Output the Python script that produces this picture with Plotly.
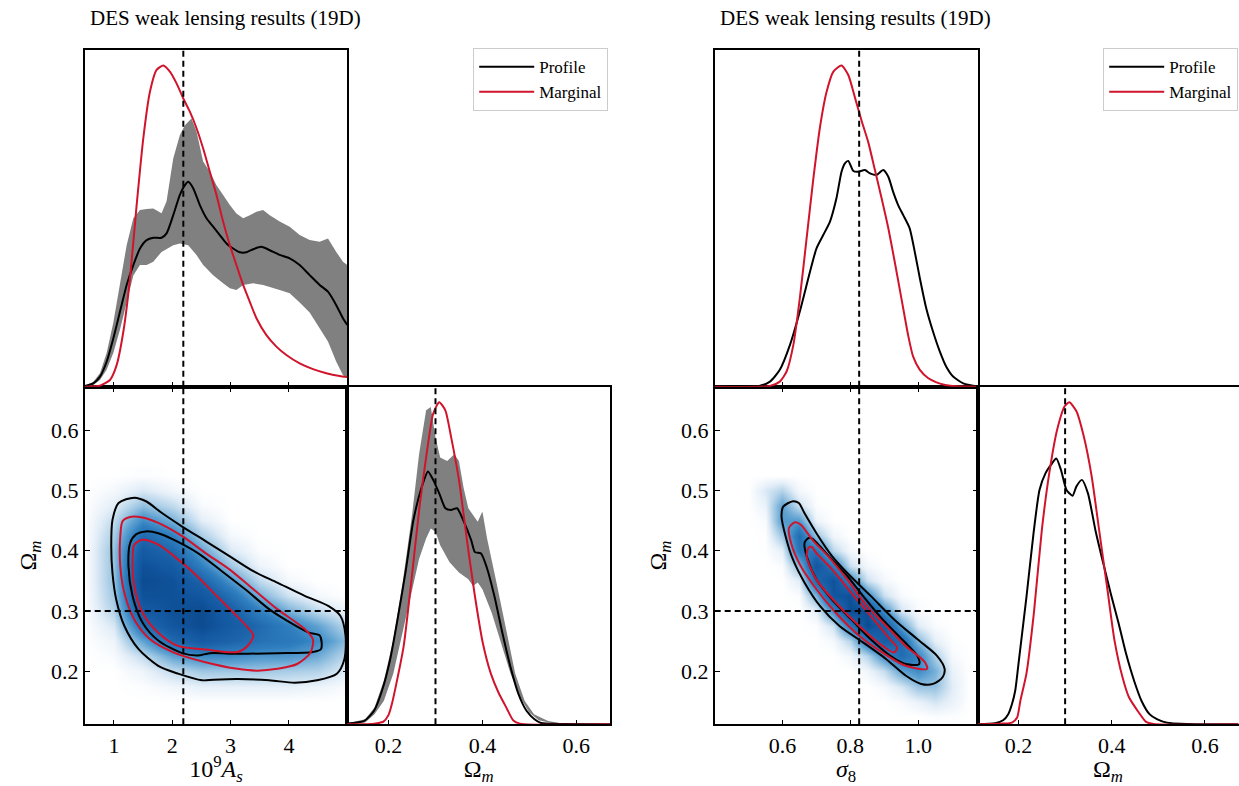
import plotly.graph_objects as go

# ---------------- data ----------------
AS_FID = 2.19
OM_FID = 0.30
S8_FID = 0.826

AS_RANGE = [0.5, 5.0]
S8_RANGE = [0.4, 1.175]
OM_RANGE = [0.112, 0.672]

as_ticks = [1, 2, 3, 4]
s8_ticks = [0.6, 0.8, 1.0]
s8_ticktext = ["0.6", "0.8", "1.0"]
om_ticks_2d = [0.2, 0.3, 0.4, 0.5, 0.6]
om_ticks_1d = [0.2, 0.4, 0.6]

# --- 1D: 10^9 A_s (left group, top panel) ---
as_x_marg = [0.5, 0.762, 0.933, 1.047, 1.162, 1.276, 1.39, 1.504, 1.618, 1.732, 1.846, 1.96, 2.074, 2.188,
             2.302, 2.416, 2.53, 2.644, 2.758, 2.872, 2.987, 3.1, 3.215, 3.329, 3.443, 3.614, 3.785, 3.956,
             4.184, 4.412, 4.64, 4.868, 5.0]
as_y_marg = [0, 0.003, 0.02, 0.064, 0.163, 0.321, 0.539, 0.737, 0.875, 0.94, 0.953, 0.935, 0.9, 0.856,
             0.816, 0.767, 0.707, 0.638, 0.569, 0.49, 0.42, 0.361, 0.302, 0.252, 0.203, 0.153, 0.119, 0.094,
             0.069, 0.052, 0.04, 0.032, 0.029]
as_x_prof = [0.5, 0.648, 0.762, 0.876, 0.99, 1.105, 1.219, 1.333, 1.447, 1.561, 1.675, 1.817, 1.903, 2.017,
             2.131, 2.217, 2.274, 2.359, 2.473, 2.587, 2.701, 2.815, 2.929, 3.043, 3.157, 3.272, 3.386, 3.528,
             3.671, 3.842, 4.013, 4.184, 4.355, 4.526, 4.669, 4.811, 4.925, 5.0]
as_y_prof = [0.002, 0.01, 0.03, 0.074, 0.143, 0.223, 0.302, 0.361, 0.41, 0.435, 0.442, 0.442, 0.455, 0.509,
             0.569, 0.598, 0.608, 0.589, 0.539, 0.5, 0.475, 0.45, 0.425, 0.41, 0.399, 0.399, 0.408, 0.415,
             0.405, 0.391, 0.381, 0.361, 0.331, 0.302, 0.282, 0.242, 0.203, 0.183]
as_band_x_hi = [0.5, 0.648, 0.762, 0.876, 0.99, 1.105, 1.219, 1.333, 1.447, 1.561, 1.675, 1.817, 1.903, 2.017,
                2.131, 2.217, 2.33, 2.416, 2.53, 2.644, 2.758, 2.872, 2.987, 3.1, 3.215, 3.329, 3.443, 3.557,
                3.671, 3.842, 4.013, 4.184, 4.355, 4.526, 4.669, 4.811, 4.925, 5.0]
as_band_hi = [0.002, 0.015, 0.04, 0.1, 0.19, 0.3, 0.42, 0.5, 0.524, 0.527, 0.529, 0.515, 0.55, 0.677,
              0.747, 0.776, 0.796, 0.757, 0.668, 0.638, 0.598, 0.569, 0.539, 0.514, 0.5, 0.509, 0.519, 0.524,
              0.509, 0.49, 0.475, 0.45, 0.435, 0.43, 0.44, 0.4, 0.371, 0.361]
as_band_x_lo = [0.5, 0.648, 0.762, 0.876, 0.99, 1.105, 1.219, 1.333, 1.447, 1.561, 1.675, 1.817, 1.903, 2.017,
                2.131, 2.274, 2.416, 2.53, 2.701, 2.872, 2.987, 3.1, 3.215, 3.386, 3.557, 3.842, 4.013, 4.184,
                4.355, 4.526, 4.669, 4.811, 4.925, 5.0]
as_band_lo = [0, 0.005, 0.02, 0.05, 0.1, 0.17, 0.25, 0.33, 0.361, 0.361, 0.371, 0.4, 0.41, 0.42,
              0.425, 0.42, 0.391, 0.361, 0.331, 0.307, 0.292, 0.287, 0.302, 0.307, 0.302, 0.287, 0.277, 0.25,
              0.22, 0.173, 0.134, 0.074, 0.035, 0.025]

# --- 1D: Omega_m (left group) ---
omL_x_marg = [0.112, 0.165, 0.175, 0.189, 0.2, 0.207, 0.215, 0.232, 0.249, 0.266, 0.283, 0.295, 0.308, 0.321,
              0.333, 0.35, 0.367, 0.384, 0.401, 0.418, 0.434, 0.452, 0.466, 0.48, 0.672]
omL_y_marg = [0, 0.001, 0.003, 0.008, 0.028, 0.06, 0.11, 0.23, 0.43, 0.645, 0.82, 0.92, 0.954, 0.93,
              0.853, 0.724, 0.546, 0.38, 0.24, 0.15, 0.095, 0.047, 0.011, 0.002, 0]
omL_x_prof = [0.112, 0.148, 0.169, 0.186, 0.203, 0.219, 0.236, 0.253, 0.27, 0.284, 0.295, 0.308, 0.321, 0.333,
              0.346, 0.359, 0.376, 0.384, 0.397, 0.409, 0.426, 0.443, 0.46, 0.477, 0.494, 0.511, 0.525, 0.536,
              0.57, 0.672]
omL_y_prof = [0.002, 0.01, 0.04, 0.1, 0.19, 0.31, 0.45, 0.605, 0.70, 0.749, 0.724, 0.684, 0.64, 0.635,
              0.64, 0.605, 0.546, 0.51, 0.506, 0.466, 0.377, 0.268, 0.169, 0.089, 0.04, 0.015, 0.004, 0.002,
              0.001, 0]
omL_band_x_hi = [0.112, 0.15, 0.17, 0.19, 0.21, 0.23, 0.25, 0.265, 0.28, 0.29, 0.30, 0.31, 0.325, 0.34, 0.35,
                 0.36, 0.37, 0.38, 0.39, 0.40, 0.41, 0.43, 0.45, 0.47, 0.49, 0.51, 0.54, 0.57, 0.6]
omL_band_hi = [0.003, 0.015, 0.05, 0.13, 0.25, 0.42, 0.62, 0.8, 0.93, 0.94, 0.85, 0.79, 0.78, 0.8, 0.78,
               0.7, 0.64, 0.62, 0.6, 0.63, 0.55, 0.42, 0.28, 0.15, 0.07, 0.03, 0.01, 0.002, 0]
omL_band_x_lo = [0.112, 0.15, 0.17, 0.19, 0.21, 0.23, 0.25, 0.265, 0.28, 0.29, 0.30, 0.31, 0.33, 0.35, 0.37,
                 0.38, 0.39, 0.40, 0.42, 0.44, 0.46, 0.48, 0.50, 0.52, 0.55, 0.57, 0.6]
omL_band_lo = [0, 0.005, 0.03, 0.07, 0.15, 0.27, 0.4, 0.49, 0.55, 0.58, 0.57, 0.53, 0.48, 0.45, 0.43,
               0.41, 0.42, 0.40, 0.33, 0.24, 0.15, 0.08, 0.035, 0.012, 0.003, 0, 0]

# --- 2D: A_s vs Omega_m contours ---
asL_out_black_x = [1.35, 1.08, 0.976, 0.955, 0.976, 1.04, 1.18, 1.42, 1.76, 2.10, 2.51, 2.71, 3.12, 3.66, 4.10,
                   4.48, 4.82, 4.95, 4.97, 4.88, 4.68, 4.27, 3.80, 3.39, 2.98, 2.57, 2.17, 1.83, 1.55]
asL_out_black_y = [0.488, 0.479, 0.451, 0.407, 0.363, 0.319, 0.275, 0.237, 0.209, 0.196, 0.185, 0.186, 0.187,
                   0.185, 0.181, 0.185, 0.196, 0.220, 0.259, 0.292, 0.308, 0.325, 0.347, 0.366, 0.391, 0.416,
                   0.440, 0.462, 0.482]
asL_in_black_x = [1.55, 1.38, 1.28, 1.25, 1.32, 1.49, 1.76, 2.17, 2.44, 2.64, 3.12, 3.80, 4.41, 4.55, 4.53,
                  4.34, 3.93, 3.66, 3.25, 2.85, 2.44, 2.03, 1.76]
asL_in_black_y = [0.432, 0.427, 0.413, 0.374, 0.325, 0.281, 0.251, 0.230, 0.226, 0.230, 0.229, 0.230, 0.232,
                  0.237, 0.259, 0.264, 0.286, 0.303, 0.336, 0.366, 0.396, 0.418, 0.429]
asL_out_red_x = [1.28, 1.15, 1.11, 1.11, 1.18, 1.35, 1.62, 2.03, 2.57, 3.12, 3.46, 3.80, 4.14, 4.37, 4.41,
                 4.27, 3.80, 3.39, 2.98, 2.57, 2.17, 1.76, 1.49]
asL_out_red_y = [0.456, 0.449, 0.424, 0.374, 0.330, 0.286, 0.253, 0.231, 0.215, 0.204, 0.201, 0.204, 0.212,
                 0.231, 0.253, 0.270, 0.303, 0.336, 0.369, 0.396, 0.424, 0.446, 0.455]
asL_in_red_x = [1.49, 1.35, 1.32, 1.35, 1.49, 1.76, 2.10, 2.57, 3.12, 3.29, 3.39, 3.29, 3.05, 2.71, 2.37,
                2.03, 1.76]
asL_in_red_y = [0.418, 0.410, 0.385, 0.341, 0.297, 0.264, 0.242, 0.236, 0.232, 0.242, 0.259, 0.273, 0.297,
                0.330, 0.363, 0.391, 0.410]

# --- 2D density (left) ---
dL_x = [0.5, 1.0, 1.5, 2.0, 2.5, 3.0, 3.5, 4.0, 4.5, 5.0]
dL_y = [0.15, 0.175, 0.2, 0.225, 0.25, 0.275, 0.3, 0.325, 0.35, 0.375, 0.4, 0.425, 0.45, 0.475, 0.5, 0.525]
dL_z = [
    [0, 0, 0, 0, 0, 0, 0, 0, 0, 0],
    [0, 0, 0.01, 0.04, 0.07, 0.07, 0.07, 0.07, 0.05, 0.02],
    [0, 0, 0.05, 0.15, 0.22, 0.22, 0.22, 0.2, 0.18, 0.08],
    [0, 0.02, 0.15, 0.35, 0.45, 0.45, 0.4, 0.4, 0.32, 0.15],
    [0, 0.05, 0.35, 0.65, 0.8, 0.7, 0.6, 0.55, 0.45, 0.25],
    [0, 0.1, 0.6, 0.85, 0.95, 0.8, 0.65, 0.5, 0.35, 0.15],
    [0, 0.18, 0.8, 0.9, 0.95, 0.75, 0.5, 0.3, 0.15, 0.05],
    [0, 0.22, 0.9, 0.9, 0.85, 0.6, 0.3, 0.12, 0.03, 0],
    [0, 0.24, 0.95, 0.9, 0.7, 0.4, 0.15, 0.03, 0, 0],
    [0, 0.24, 0.9, 0.8, 0.5, 0.22, 0.05, 0, 0, 0],
    [0, 0.24, 0.8, 0.65, 0.35, 0.1, 0.01, 0, 0, 0],
    [0, 0.2, 0.65, 0.5, 0.2, 0.03, 0, 0, 0, 0],
    [0, 0.15, 0.45, 0.3, 0.08, 0, 0, 0, 0, 0],
    [0, 0.08, 0.25, 0.15, 0.02, 0, 0, 0, 0, 0],
    [0, 0.03, 0.1, 0.04, 0, 0, 0, 0, 0, 0],
    [0, 0, 0.01, 0, 0, 0, 0, 0, 0, 0],
]

# --- 1D: sigma_8 (right group, top panel) ---
s8_x_marg = [0.4, 0.563, 0.592, 0.612, 0.632, 0.651, 0.671, 0.691, 0.71, 0.73, 0.75, 0.774, 0.794, 0.813,
             0.833, 0.853, 0.872, 0.892, 0.912, 0.931, 0.951, 0.971, 0.985, 1.005, 1.03, 1.054, 1.08, 1.113, 1.175]
s8_y_marg = [0, 0.002, 0.015, 0.045, 0.124, 0.262, 0.44, 0.618, 0.767, 0.875, 0.935, 0.953, 0.925, 0.86,
             0.79, 0.725, 0.645, 0.56, 0.47, 0.37, 0.26, 0.15, 0.09, 0.05, 0.025, 0.013, 0.005, 0.001, 0]
s8_x_prof = [0.4, 0.534, 0.563, 0.592, 0.622, 0.651, 0.681, 0.7, 0.72, 0.74, 0.759, 0.774, 0.784, 0.794, 0.809,
             0.823, 0.843, 0.858, 0.877, 0.897, 0.912, 0.926, 0.941, 0.956, 0.975, 0.99, 1.005, 1.024, 1.044,
             1.064, 1.083, 1.103, 1.133, 1.162, 1.175]
s8_y_prof = [0.001, 0.003, 0.015, 0.05, 0.124, 0.223, 0.341, 0.41, 0.45, 0.49, 0.559, 0.638, 0.663, 0.67, 0.64,
             0.638, 0.643, 0.633, 0.628, 0.643, 0.623, 0.579, 0.539, 0.509, 0.47, 0.4, 0.322, 0.232, 0.163,
             0.104, 0.059, 0.03, 0.01, 0.003, 0.001]

# --- 1D: Omega_m (right group) ---
omR_x_marg = [0.112, 0.167, 0.186, 0.197, 0.204, 0.217, 0.233, 0.25, 0.266, 0.283, 0.299, 0.309, 0.324, 0.34,
              0.357, 0.373, 0.39, 0.406, 0.423, 0.437, 0.458, 0.473, 0.49, 0.672]
omR_y_marg = [0, 0.002, 0.005, 0.02, 0.07, 0.15, 0.33, 0.575, 0.744, 0.873, 0.942, 0.954, 0.928, 0.853,
              0.734, 0.575, 0.407, 0.248, 0.14, 0.08, 0.035, 0.008, 0.001, 0]
omR_x_prof = [0.112, 0.15, 0.167, 0.178, 0.186, 0.193, 0.2, 0.217, 0.233, 0.245, 0.258, 0.27, 0.281, 0.291,
              0.303, 0.316, 0.324, 0.336, 0.349, 0.365, 0.382, 0.398, 0.415, 0.431, 0.448, 0.464, 0.481, 0.497,
              0.51, 0.528, 0.56, 0.672]
omR_y_prof = [0, 0.003, 0.012, 0.03, 0.06, 0.1, 0.18, 0.377, 0.575, 0.694, 0.744, 0.769, 0.787, 0.754,
              0.694, 0.677, 0.704, 0.724, 0.684, 0.575, 0.476, 0.387, 0.298, 0.208, 0.129, 0.069, 0.03, 0.015,
              0.008, 0.003, 0.001, 0]

# --- 2D: sigma_8 vs Omega_m contours ---
s8_out_black_x = [0.631, 0.602, 0.597, 0.609, 0.631, 0.665, 0.711, 0.768, 0.837, 0.906, 0.963, 1.009, 1.044,
                  1.072, 1.078, 1.055, 0.998, 0.929, 0.860, 0.791, 0.746, 0.700, 0.665, 0.648]
s8_out_black_y = [0.482, 0.473, 0.457, 0.424, 0.385, 0.347, 0.308, 0.275, 0.248, 0.220, 0.193, 0.179, 0.179,
                  0.190, 0.204, 0.226, 0.253, 0.286, 0.325, 0.363, 0.391, 0.429, 0.462, 0.479]
s8_in_black_x = [0.677, 0.665, 0.671, 0.700, 0.746, 0.803, 0.860, 0.917, 0.963, 1.003, 0.997, 0.952, 0.895,
                 0.837, 0.791, 0.746, 0.711, 0.688]
s8_in_black_y = [0.421, 0.413, 0.391, 0.352, 0.319, 0.286, 0.253, 0.226, 0.212, 0.212, 0.226, 0.253, 0.286,
                 0.325, 0.358, 0.385, 0.407, 0.420]
s8_out_red_x = [0.637, 0.619, 0.625, 0.654, 0.700, 0.757, 0.826, 0.895, 0.963, 1.026, 1.020, 0.963, 0.906,
                0.849, 0.791, 0.734, 0.688, 0.654]
s8_out_red_y = [0.447, 0.438, 0.413, 0.374, 0.336, 0.297, 0.259, 0.231, 0.209, 0.204, 0.215, 0.242, 0.275,
                0.308, 0.352, 0.391, 0.418, 0.443]
s8_in_red_x = [0.677, 0.671, 0.700, 0.757, 0.826, 0.895, 0.929, 0.938, 0.917, 0.860, 0.803, 0.746, 0.700, 0.686]
s8_in_red_y = [0.405, 0.391, 0.352, 0.314, 0.275, 0.242, 0.231, 0.239, 0.253, 0.292, 0.330, 0.369, 0.396, 0.406]

# --- 2D density (right) ---
dR_x = [0.5, 0.55, 0.6, 0.65, 0.7, 0.75, 0.8, 0.85, 0.9, 0.95, 1.0, 1.05, 1.1, 1.15]
dR_y = [0.125, 0.15, 0.175, 0.2, 0.225, 0.25, 0.275, 0.3, 0.325, 0.35, 0.375, 0.4, 0.425, 0.45, 0.475, 0.5, 0.525]
dR_z = [
    [0, 0, 0, 0, 0, 0, 0, 0, 0, 0, 0, 0.01, 0.01, 0],
    [0, 0, 0, 0, 0, 0, 0, 0, 0, 0.02, 0.06, 0.11, 0.058, 0],
    [0, 0, 0, 0, 0, 0, 0, 0, 0.03, 0.1, 0.23, 0.24, 0.08, 0],
    [0, 0, 0, 0, 0, 0, 0, 0.04, 0.14, 0.35, 0.45, 0.3, 0.058, 0],
    [0, 0, 0, 0, 0, 0, 0.04, 0.17, 0.43, 0.64, 0.47, 0.19, 0.024, 0],
    [0, 0, 0, 0, 0, 0.03, 0.17, 0.55, 0.79, 0.65, 0.27, 0.07, 0.005, 0],
    [0, 0, 0, 0, 0.01, 0.12, 0.55, 0.95, 0.78, 0.36, 0.085, 0.015, 0, 0],
    [0, 0, 0, 0, 0.07, 0.44, 0.95, 0.9, 0.42, 0.11, 0.02, 0, 0, 0],
    [0, 0, 0, 0.013, 0.29, 0.86, 0.9, 0.46, 0.13, 0.02, 0, 0, 0, 0],
    [0, 0, 0, 0.08, 0.65, 0.9, 0.46, 0.13, 0.03, 0, 0, 0, 0, 0],
    [0, 0, 0.016, 0.27, 0.85, 0.52, 0.13, 0.03, 0, 0, 0, 0, 0, 0],
    [0, 0.005, 0.07, 0.57, 0.57, 0.16, 0.03, 0, 0, 0, 0, 0, 0, 0],
    [0, 0.005, 0.22, 0.63, 0.23, 0.04, 0, 0, 0, 0, 0, 0, 0, 0],
    [0, 0.02, 0.38, 0.38, 0.05, 0, 0, 0, 0, 0, 0, 0, 0, 0],
    [0, 0.06, 0.36, 0.13, 0.01, 0, 0, 0, 0, 0, 0, 0, 0, 0],
    [0, 0.1, 0.18, 0.03, 0, 0, 0, 0, 0, 0, 0, 0, 0, 0],
    [0, 0, 0, 0, 0, 0, 0, 0, 0, 0, 0, 0, 0, 0],
]

TITLE = "DES weak lensing results (19D)"

# ---------------- styles ----------------
FONT = "Liberation Serif"
RED = "#d0142c"
GRAY = "#808080"
LW = 2.0
BLUES = [[0, "#ffffff"], [0.08, "#e3eef8"], [0.2, "#a9cde6"], [0.35, "#5fa2d2"],
         [0.5, "#2f7fbf"], [0.7, "#1c63aa"], [0.85, "#1257a0"], [1, "#0a4688"]]

fig = go.Figure()


def closed(a):
    return list(a) + [a[0]]


def add_1d(xa, ya, band, prof, marg, legend_name, show_leg):
    if band is not None:
        bx_hi, b_hi, bx_lo, b_lo = band
        fig.add_trace(go.Scatter(x=list(bx_hi) + list(bx_lo)[::-1], y=list(b_hi) + list(b_lo)[::-1],
                                 fill="toself", fillcolor=GRAY, line=dict(width=0), mode="lines",
                                 showlegend=False, hoverinfo="skip", xaxis=xa, yaxis=ya))
    fig.add_trace(go.Scatter(x=prof[0], y=prof[1], mode="lines", name="Profile",
                             line=dict(color="black", width=LW, shape="spline", smoothing=0.6),
                             showlegend=show_leg, legend=legend_name, xaxis=xa, yaxis=ya))
    fig.add_trace(go.Scatter(x=marg[0], y=marg[1], mode="lines", name="Marginal",
                             line=dict(color=RED, width=LW, shape="spline", smoothing=0.6),
                             showlegend=show_leg, legend=legend_name, xaxis=xa, yaxis=ya))


def add_2d(xa, ya, dens, contours):
    dx, dy, dz = dens
    fig.add_trace(go.Heatmap(x=dx, y=dy, z=dz, colorscale=BLUES, zmin=0, zmax=1, zsmooth="best",
                             showscale=False, hoverinfo="skip", xaxis=xa, yaxis=ya))
    for cx, cy, col in contours:
        fig.add_trace(go.Scatter(x=closed(cx), y=closed(cy), mode="lines",
                                 line=dict(color=col, width=LW, shape="spline", smoothing=0.8),
                                 showlegend=False, hoverinfo="skip", xaxis=xa, yaxis=ya))


# left group
add_1d("x2", "y2", (as_band_x_hi, as_band_hi, as_band_x_lo, as_band_lo),
       (as_x_prof, as_y_prof), (as_x_marg, as_y_marg), "legend", True)
add_2d("x", "y", (dL_x, dL_y, dL_z),
       [(asL_out_black_x, asL_out_black_y, "black"), (asL_in_black_x, asL_in_black_y, "black"),
        (asL_out_red_x, asL_out_red_y, RED), (asL_in_red_x, asL_in_red_y, RED)])
add_1d("x3", "y3", (omL_band_x_hi, omL_band_hi, omL_band_x_lo, omL_band_lo),
       (omL_x_prof, omL_y_prof), (omL_x_marg, omL_y_marg), "legend", False)

# right group
add_1d("x5", "y5", None, (s8_x_prof, s8_y_prof), (s8_x_marg, s8_y_marg), "legend2", True)
add_2d("x4", "y4", (dR_x, dR_y, dR_z),
       [(s8_out_black_x, s8_out_black_y, "black"), (s8_in_black_x, s8_in_black_y, "black"),
        (s8_out_red_x, s8_out_red_y, RED), (s8_in_red_x, s8_in_red_y, RED)])
add_1d("x6", "y6", None, (omR_x_prof, omR_y_prof), (omR_x_marg, omR_y_marg), "legend2", False)

# ---------------- layout ----------------
W, H = 1239, 786
LX2D = [84.7 / W, 347.3 / W]
LX1D = [347.3 / W, 610 / W]
RX2D = [714.7 / W, 977.5 / W]
RX1D = [977.5 / W, 1238.5 / W]
TOPY = [(H - 386.7) / H, (H - 49.7) / H]
BOTY = [(H - 724.3) / H, (H - 386.7) / H]

tickfont = dict(family=FONT, size=22, color="black")
titlefont = dict(family=FONT, size=24, color="black")
base = dict(showgrid=False, zeroline=False, showline=True, linecolor="black", linewidth=1.6,
            ticks="inside", ticklen=5, tickwidth=1.3, tickcolor="black", tickfont=tickfont)
noticks = dict(showgrid=False, zeroline=False, showline=True, linecolor="black", linewidth=1.6,
               ticks="", showticklabels=False, mirror=True)

legend_style = dict(xanchor="left", yanchor="top", bgcolor="white", bordercolor="#cccccc", borderwidth=1.2,
                    font=dict(family=FONT, size=17, color="black"), tracegroupgap=0, itemwidth=55)

layout = dict(
    width=W, height=H, margin=dict(l=0, r=0, t=0, b=0),
    paper_bgcolor="white", plot_bgcolor="white",
    font=dict(family=FONT, color="black"),
    # left group
    xaxis=dict(base, domain=LX2D, anchor="y", range=AS_RANGE, tickvals=as_ticks, mirror="ticks",
               title=dict(text="10<sup>9</sup><i>A</i><sub><i>s</i></sub>", font=titlefont, standoff=8)),
    yaxis=dict(base, domain=BOTY, anchor="x", range=OM_RANGE, tickvals=om_ticks_2d, mirror="ticks",
               ticktext=["0.2", "0.3", "0.4", "0.5", "0.6"],
               title=dict(text="Ω<sub><i>m</i></sub>", font=titlefont, standoff=8)),
    xaxis2=dict(base, domain=LX2D, anchor="y2", range=AS_RANGE, tickvals=as_ticks, mirror=True,
                showticklabels=False),
    yaxis2=dict(noticks, domain=TOPY, anchor="x2", range=[0, 1]),
    xaxis3=dict(base, domain=LX1D, anchor="y3", range=OM_RANGE, tickvals=om_ticks_1d, mirror=True,
                ticktext=["0.2", "0.4", "0.6"],
                title=dict(text="Ω<sub><i>m</i></sub>", font=titlefont, standoff=8)),
    yaxis3=dict(noticks, domain=BOTY, anchor="x3", range=[0, 1]),
    # right group
    xaxis4=dict(base, domain=RX2D, anchor="y4", range=S8_RANGE, tickvals=s8_ticks, ticktext=s8_ticktext,
                mirror="ticks", title=dict(text="<i>σ</i><sub>8</sub>", font=titlefont, standoff=8)),
    yaxis4=dict(base, domain=BOTY, anchor="x4", range=OM_RANGE, tickvals=om_ticks_2d, mirror="ticks",
                ticktext=["0.2", "0.3", "0.4", "0.5", "0.6"],
                title=dict(text="Ω<sub><i>m</i></sub>", font=titlefont, standoff=8)),
    xaxis5=dict(base, domain=RX2D, anchor="y5", range=S8_RANGE, tickvals=s8_ticks, mirror=True,
                showticklabels=False),
    yaxis5=dict(noticks, domain=TOPY, anchor="x5", range=[0, 1]),
    xaxis6=dict(base, domain=RX1D, anchor="y6", range=OM_RANGE, tickvals=om_ticks_1d, mirror=True,
                ticktext=["0.2", "0.4", "0.6"],
                title=dict(text="Ω<sub><i>m</i></sub>", font=titlefont, standoff=8)),
    yaxis6=dict(noticks, domain=BOTY, anchor="x6", range=[0, 1]),
    legend=dict(legend_style, x=473 / W, y=1 - 48 / H),
    legend2=dict(legend_style, x=1103 / W, y=1 - 48 / H),
    showlegend=True,
)
fig.update_layout(**layout)

# titles
for xpx in (88, 718):
    fig.add_annotation(text=TITLE, xref="paper", yref="paper", x=xpx / W, y=1 - 18 / H,
                       xanchor="left", yanchor="middle", showarrow=False,
                       font=dict(family=FONT, size=21, color="black"))

# dashed fiducial lines
dash = dict(color="black", width=2, dash="6px,4px")
vlines = [("x2", "y2", AS_FID), ("x", "y", AS_FID), ("x3", "y3", OM_FID),
          ("x5", "y5", S8_FID), ("x4", "y4", S8_FID), ("x6", "y6", OM_FID)]
for xr, yr, v in vlines:
    fig.add_shape(type="line", xref=xr, yref=yr + " domain", x0=v, x1=v, y0=0, y1=1, line=dash)
for xr, yr in (("x", "y"), ("x4", "y4")):
    fig.add_shape(type="line", xref=xr + " domain", yref=yr, x0=0, x1=1, y0=OM_FID, y1=OM_FID, line=dash)

fig.write_html("out.html", config={"displayModeBar": False},
               post_script="document.body.style.margin='0px';document.body.style.overflow='hidden';")
